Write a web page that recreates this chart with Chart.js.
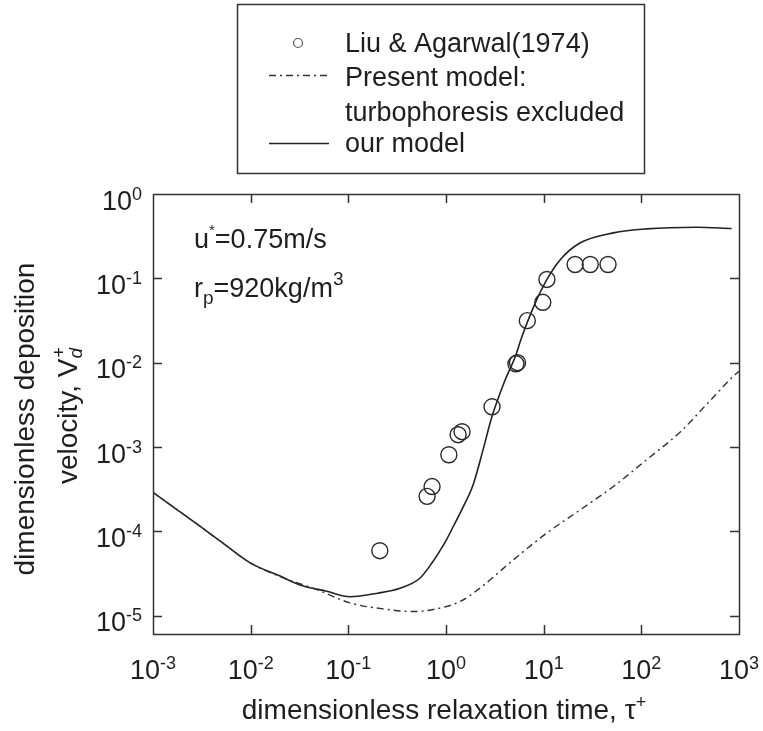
<!DOCTYPE html>
<html>
<head>
<meta charset="utf-8">
<script src="https://cdn.jsdelivr.net/npm/chart.js@4.4.1/dist/chart.umd.min.js"></script>
<style>
  html, body { margin: 0; padding: 0; background: #fff; }
  #depo { display: block; }
</style>
</head>
<body>
<canvas id="depo" width="763" height="731"></canvas>
<script>
// Liu & Agarwal (1974) measurements
const expTau = [0.21, 0.64, 0.72, 1.07, 1.33, 1.46, 2.96, 5.2, 5.4, 6.8, 9.8, 10.8, 21, 30, 45.6];
const expVd  = [5.9e-5, 2.6e-4, 3.4e-4, 8.1e-4, 1.4e-3, 1.52e-3, 3.0e-3, 9.7e-3, 1.0e-2, 3.15e-2, 5.2e-2, 9.7e-2, 0.146, 0.146, 0.146];

// our model (with turbophoresis)
const modelTau = [0.001, 0.003, 0.005, 0.01, 0.02, 0.032, 0.06, 0.104, 0.2, 0.338, 0.54, 0.736, 0.868, 1.02, 1.19, 1.5, 1.9, 2.41, 2.94, 4.02, 5.08, 5.96, 7.83, 10.7, 14.7, 23.5, 51.7, 113, 369, 841];
const modelVd  = [2.9e-4, 1.16e-4, 7.5e-5, 4.2e-5, 2.95e-5, 2.32e-5, 1.95e-5, 1.68e-5, 1.85e-5, 2.12e-5, 2.78e-5, 4.4e-5, 5.9e-5, 8.1e-5, 1.15e-4, 1.95e-4, 3.6e-4, 9.5e-4, 2.25e-3, 6.2e-3, 1.15e-2, 2.0e-2, 4.5e-2, 9.5e-2, 0.165, 0.262, 0.346, 0.386, 0.404, 0.39];

// present model, turbophoresis excluded
const noTurboTau = [0.001, 0.003, 0.005, 0.01, 0.02, 0.047, 0.104, 0.247, 0.462, 0.867, 1.39, 2.14, 4.89, 10.7, 23.5, 51.7, 113, 249, 500, 910, 1000];
const noTurboVd  = [2.9e-4, 1.16e-4, 7.5e-5, 4.2e-5, 2.9e-5, 2.05e-5, 1.42e-5, 1.19e-5, 1.12e-5, 1.23e-5, 1.47e-5, 2.05e-5, 4.59e-5, 9.5e-5, 1.79e-4, 3.4e-4, 7.06e-4, 1.5e-3, 3.5e-3, 7.2e-3, 7.9e-3];

// decade exponents that get a tick and a 10^n label
const xDecades = [-3, -2, -1, 0, 1, 2, 3];
const yDecades = [-5, -4, -3, -2, -1, 0];

const xMin = 1e-3, xMax = 1e3;
const yMin = 6.07e-6, yMax = 1;

const FONT = '"Liberation Sans", Arial, Helvetica, sans-serif';
const INK = '#1e1e1e';
const DASHDOT = [7, 4, 2, 4];

function toPoints(xs, ys) {
    return xs.map((x, i) => ({ x: x, y: ys[i] }));
}

// draws a run of text pieces (sizes, raised/lowered bits) on one baseline
function drawParts(ctx, parts, x, y, align) {
    let total = 0;
    parts.forEach(p => {
        ctx.font = (p.italic ? 'italic ' : '') + p.size + 'px ' + FONT;
        p.w = ctx.measureText(p.t).width;
        if (!p.stack) total += p.w;
    });
    let cx = align === 'center' ? x - total / 2 : align === 'right' ? x - total : x;
    ctx.textAlign = 'left';
    ctx.textBaseline = 'alphabetic';
    parts.forEach(p => {
        ctx.font = (p.italic ? 'italic ' : '') + p.size + 'px ' + FONT;
        ctx.fillText(p.t, cx + (p.dx || 0), y + (p.dy || 0));
        if (!p.stack) cx += p.w;
    });
}

function powLabel(e) {
    return [
        { t: '10', size: 27 },
        { t: String(e), size: 18, dy: -10 }
    ];
}

const framePlugin = {
    id: 'frame',
    afterDraw(chart) {
        const ctx = chart.ctx;
        const a = chart.chartArea;
        const xs = chart.scales.x, ys = chart.scales.y;
        ctx.save();
        ctx.setLineDash([]);
        ctx.globalAlpha = 1;
        ctx.fillStyle = INK;

        // tick labels 10^n
        xDecades.forEach(e => {
            drawParts(ctx, powLabel(e), xs.getPixelForValue(Math.pow(10, e)), a.bottom + 45, 'center');
        });
        yDecades.forEach(e => {
            drawParts(ctx, powLabel(e), a.left - 11, ys.getPixelForValue(Math.pow(10, e)) + 15.5, 'right');
        });

        // axis titles
        drawParts(ctx, [
            { t: 'dimensionless relaxation time, \u03c4', size: 28 },
            { t: '+', size: 18, dy: -11 }
        ], 444, 719, 'center');

        ctx.save();
        ctx.translate(34, 419);
        ctx.rotate(-Math.PI / 2);
        drawParts(ctx, [{ t: 'dimensionless deposition', size: 28 }], 0, 0, 'center');
        ctx.restore();
        ctx.save();
        ctx.translate(77, 416);
        ctx.rotate(-Math.PI / 2);
        drawParts(ctx, [
            { t: 'velocity, V', size: 28 },
            { t: '+', size: 18, dy: -12, stack: true, dx: 1 },
            { t: 'd', size: 19, dy: 5, italic: true }
        ], 0, 0, 'center');
        ctx.restore();

        // flow conditions
        drawParts(ctx, [
            { t: 'u', size: 27 },
            { t: '*', size: 15, dy: -13 },
            { t: '=0.75m/s', size: 27 }
        ], 194, 248, 'left');
        drawParts(ctx, [
            { t: 'r', size: 27 },
            { t: 'p', size: 19, dy: 7 },
            { t: '=920kg/m', size: 27 },
            { t: '3', size: 19, dy: -12 }
        ], 194, 297, 'left');

        // legend box
        ctx.strokeStyle = '#333';
        ctx.lineWidth = 1.5;
        ctx.strokeRect(237.5, 4.5, 407, 169);
        ctx.strokeStyle = '#555';
        ctx.lineWidth = 1.2;
        ctx.beginPath();
        ctx.arc(298, 43, 4.5, 0, Math.PI * 2);
        ctx.stroke();
        ctx.strokeStyle = '#333';
        ctx.lineWidth = 1.4;
        ctx.setLineDash(DASHDOT);
        ctx.beginPath();
        ctx.moveTo(269, 75.5); ctx.lineTo(328, 75.5);
        ctx.stroke();
        ctx.setLineDash([]);
        ctx.strokeStyle = '#222';
        ctx.lineWidth = 1.6;
        ctx.beginPath();
        ctx.moveTo(269, 143.5); ctx.lineTo(329, 143.5);
        ctx.stroke();
        drawParts(ctx, [{ t: 'Liu & Agarwal(1974)', size: 27 }], 345, 52, 'left');
        drawParts(ctx, [{ t: 'Present model:', size: 27 }], 345, 86, 'left');
        drawParts(ctx, [{ t: 'turbophoresis excluded', size: 27 }], 345, 121, 'left');
        drawParts(ctx, [{ t: 'our model', size: 27 }], 345, 152, 'left');

        // plot frame with inward ticks on all four sides
        const tl = 9;
        const L = Math.round(a.left), R = Math.round(a.right);
        const T = Math.round(a.top), B = Math.round(a.bottom);
        ctx.strokeStyle = '#333';
        ctx.lineWidth = 1.5;
        ctx.beginPath();
        ctx.rect(L + 0.5, T + 0.5, R - L, B - T);
        xDecades.forEach(e => {
            const px = Math.round(xs.getPixelForValue(Math.pow(10, e))) + 0.5;
            ctx.moveTo(px, B); ctx.lineTo(px, B - tl);
            ctx.moveTo(px, T); ctx.lineTo(px, T + tl);
        });
        yDecades.forEach(e => {
            const py = Math.round(ys.getPixelForValue(Math.pow(10, e))) + 0.5;
            ctx.moveTo(L, py); ctx.lineTo(L + tl, py);
            ctx.moveTo(R, py); ctx.lineTo(R - tl, py);
        });
        ctx.stroke();
        ctx.restore();
    }
};

new Chart(document.getElementById('depo').getContext('2d'), {
    type: 'scatter',
    data: {
        datasets: [
            {
                label: 'Liu & Agarwal(1974)',
                data: toPoints(expTau, expVd),
                showLine: false,
                pointStyle: 'circle',
                pointRadius: 8,
                pointBorderWidth: 1.4,
                pointBorderColor: '#2a2a2a',
                pointBackgroundColor: 'rgba(0,0,0,0)'
            },
            {
                label: 'Present model: turbophoresis excluded',
                data: toPoints(noTurboTau, noTurboVd),
                showLine: true,
                pointRadius: 0,
                borderColor: '#333',
                borderWidth: 1.4,
                borderDash: DASHDOT,
                cubicInterpolationMode: 'monotone'
            },
            {
                label: 'our model',
                data: toPoints(modelTau, modelVd),
                showLine: true,
                pointRadius: 0,
                borderColor: '#222',
                borderWidth: 1.6,
                cubicInterpolationMode: 'monotone'
            }
        ]
    },
    options: {
        responsive: false,
        animation: false,
        devicePixelRatio: 1,
        layout: { padding: { top: 194, right: 24, left: 0, bottom: 0 } },
        plugins: {
            legend: { display: false },
            tooltip: { enabled: false }
        },
        scales: {
            x: {
                type: 'logarithmic',
                min: xMin,
                max: xMax,
                grid: { display: false, drawTicks: false },
                border: { display: false },
                ticks: { display: false },
                afterFit: s => { s.height = 97; }
            },
            y: {
                type: 'logarithmic',
                min: yMin,
                max: yMax,
                grid: { display: false, drawTicks: false },
                border: { display: false },
                ticks: { display: false },
                afterFit: s => { s.width = 153; }
            }
        }
    },
    plugins: [framePlugin]
});
</script>
</body>
</html>
